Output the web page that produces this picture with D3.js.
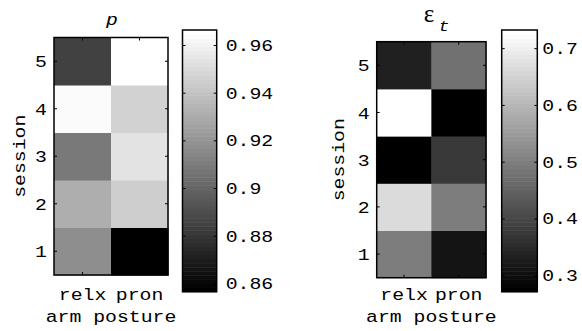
<!DOCTYPE html>
<html>
<head>
<meta charset="utf-8">
<script src="https://cdn.jsdelivr.net/npm/d3@7"></script>
<style>
  body { margin: 0; background: #fff; }
  text { font-family: "Liberation Mono", "DejaVu Sans Mono", monospace; font-size: 16.5px; fill: #000; }
</style>
</head>
<body>
<svg id="chart" width="582" height="331"></svg>
<script>
// data, sessions 1..5
var postures = ["relx", "pron"];
var sessions = [1, 2, 3, 4, 5];
var pRelx = [0.9168, 0.9306, 0.9094, 0.9641, 0.8849];
var pPron = [0.8565, 0.9457, 0.9529, 0.9473, 0.9663];
var epsRelx = [0.497, 0.661, 0.272, 0.732, 0.334];
var epsPron = [0.309, 0.501, 0.372, 0.271, 0.473];
var pTicks = [0.86, 0.88, 0.90, 0.92, 0.94, 0.96];
var epsTicks = [0.3, 0.4, 0.5, 0.6, 0.7];

var svg = d3.select("#chart");
var SX = 1.2; // wide courier look

function label(g, txt, x, y, anchor, rot) {
  var t = g.append("text")
    .attr("transform", "translate(" + x + "," + y + ")" + (rot ? " rotate(" + rot + ")" : "") + " scale(" + SX + ",1)")
    .attr("text-anchor", anchor || "start")
    .text(txt);
  return t;
}

function drawPanel(cfg) {
  var g = svg.append("g");
  var x = d3.scaleBand().domain(postures).range([cfg.x0, cfg.x1]);
  var y = d3.scaleBand().domain(sessions).range([cfg.y1, cfg.y0]);
  var ext = d3.extent(cfg.relx.concat(cfg.pron));
  var grays = d3.range(64).map(function(i) { var v = Math.round(i / 63 * 255); return d3.rgb(v, v, v).toString(); });
  var color = d3.scaleQuantize().domain(ext).range(grays);

  var cells = [];
  sessions.forEach(function(s, i) {
    cells.push({ c: "relx", s: s, v: cfg.relx[i] });
    cells.push({ c: "pron", s: s, v: cfg.pron[i] });
  });
  g.selectAll("rect.cell").data(cells).enter().append("rect")
    .attr("class", "cell")
    .attr("x", function(d) { return x(d.c); })
    .attr("y", function(d) { return y(d.s); })
    .attr("width", x.bandwidth() + 0.5)
    .attr("height", y.bandwidth() + 0.5)
    .attr("fill", function(d) { return color(d.v); });

  // inward ticks
  var tk = function(axis, tx, ty) {
    g.append("g").attr("transform", "translate(" + tx + "," + ty + ")")
      .call(axis.tickSizeOuter(0).tickFormat(""))
      .call(function(a) { a.select(".domain").remove(); a.selectAll("line").attr("stroke", "#000"); });
  };
  tk(d3.axisLeft(y).tickSizeInner(-3), cfg.x0, 0);
  tk(d3.axisRight(y).tickSizeInner(-3), cfg.x1, 0);
  tk(d3.axisBottom(x).tickSizeInner(-3), 0, cfg.y1);
  tk(d3.axisTop(x).tickSizeInner(-3), 0, cfg.y0);

  g.append("rect")
    .attr("x", cfg.x0).attr("y", cfg.y0)
    .attr("width", cfg.x1 - cfg.x0).attr("height", cfg.y1 - cfg.y0)
    .attr("fill", "none").attr("stroke", "#000").attr("stroke-width", 1.5);

  sessions.forEach(function(s) {
    label(g, s, cfg.x0 - 7, y(s) + y.bandwidth() / 2 + 6, "end");
  });
  postures.forEach(function(c) {
    label(g, c, x(c) + x.bandwidth() / 2, 300, "middle");
  });
  label(g, "arm posture", (cfg.x0 + cfg.x1) / 2, 322, "middle");
  label(g, "session", cfg.ylabX, (cfg.y0 + cfg.y1) / 2, "middle", -90);

  // colorbar
  var cb = cfg.cb;
  var cy = d3.scaleLinear().domain(ext).range([cb.y1, cb.y0]);
  var step = (ext[1] - ext[0]) / 64;
  g.selectAll("rect.cb").data(d3.range(64)).enter().append("rect")
    .attr("class", "cb")
    .attr("x", cb.x0)
    .attr("y", function(i) { return cy(ext[0] + (i + 1) * step); })
    .attr("width", cb.x1 - cb.x0)
    .attr("height", function(i) { return cy(ext[0] + i * step) - cy(ext[0] + (i + 1) * step) + 0.5; })
    .attr("fill", function(i) { return grays[i]; });
  tk(d3.axisRight(cy).tickValues(cfg.ticks).tickSizeInner(-3), cb.x1, 0);
  tk(d3.axisLeft(cy).tickValues(cfg.ticks).tickSizeInner(-3), cb.x0, 0);
  g.append("rect")
    .attr("x", cb.x0).attr("y", cb.y0)
    .attr("width", cb.x1 - cb.x0).attr("height", cb.y1 - cb.y0)
    .attr("fill", "none").attr("stroke", "#000").attr("stroke-width", 1.5);
  cfg.ticks.forEach(function(t) {
    label(g, String(+t.toFixed(2)), cb.x1 + cfg.lpad, cy(t) + 6, "start");
  });
  return g;
}

var g1 = drawPanel({ relx: pRelx, pron: pPron, ticks: pTicks, lpad: 9,
  x0: 54, x1: 168, y0: 37.5, y1: 275, ylabX: 25,
  cb: { x0: 182.5, x1: 216.7, y0: 30, y1: 291.7 } });
g1.append("text")
  .attr("transform", "translate(112,25) scale(" + SX + ",1)")
  .attr("text-anchor", "middle")
  .style("font-style", "italic")
  .text("p");

var g2 = drawPanel({ relx: epsRelx, pron: epsPron, ticks: epsTicks, lpad: 5,
  x0: 376.7, x1: 486, y0: 41.7, y1: 277.7, ylabX: 344,
  cb: { x0: 501.7, x1: 537.3, y0: 30, y1: 291.7 } });
g2.append("text")
  .attr("x", 429).attr("y", 22)
  .attr("text-anchor", "middle")
  .style("font-family", "'Liberation Serif', 'DejaVu Serif', serif")
  .style("font-size", "25px")
  .text("\u03b5");
g2.append("text")
  .attr("transform", "translate(444,31) scale(" + SX + ",1)")
  .attr("text-anchor", "middle")
  .style("font-style", "italic")
  .style("font-size", "15px")
  .text("t");
</script>
</body>
</html>
